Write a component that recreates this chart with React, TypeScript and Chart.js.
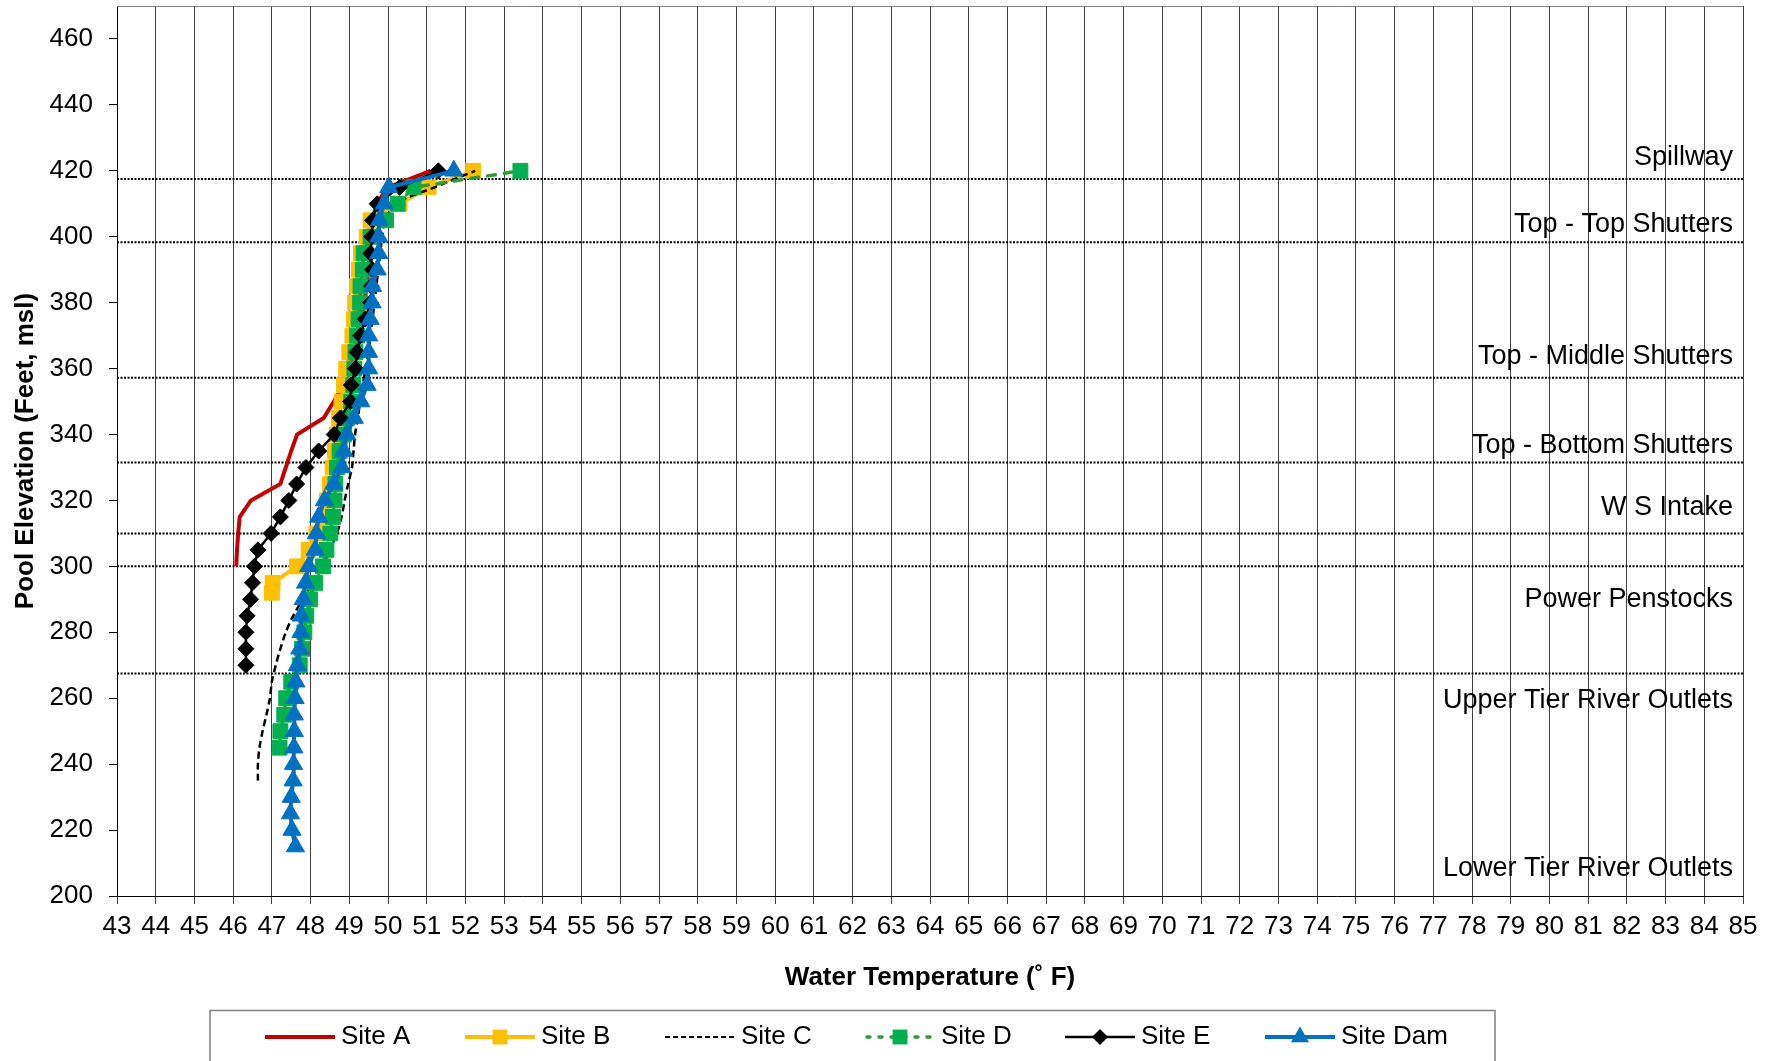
import React, { useEffect, useRef } from 'react';
import { Chart, registerables } from 'chart.js';

Chart.register(...registerables);

const FONT = '"Liberation Sans", Arial, sans-serif';

// Axis ticks
const xTickValues = [43, 44, 45, 46, 47, 48, 49, 50, 51, 52, 53, 54, 55, 56, 57, 58, 59, 60, 61, 62, 63, 64, 65, 66, 67, 68, 69, 70, 71, 72, 73, 74, 75, 76, 77, 78, 79, 80, 81, 82, 83, 84, 85];
const yTickValues = [200, 220, 240, 260, 280, 300, 320, 340, 360, 380, 400, 420, 440, 460];

// Series data (temperature °F vs pool elevation ft)
const siteAElev = [300, 305, 310, 315, 320, 325, 330, 335, 340, 345, 350, 355, 360, 365, 370, 375, 380, 385, 390, 395, 400, 405, 410, 415, 420];
const siteATemp = [46.08, 46.1, 46.13, 46.17, 46.46, 47.22, 47.36, 47.5, 47.65, 48.34, 48.6, 48.85, 49.0, 49.1, 49.2, 49.3, 49.38, 49.45, 49.5, 49.52, 49.55, 49.6, 49.7, 50.0, 51.1];

const siteBElev = [292, 295, 300, 305, 310, 315, 320, 325, 330, 335, 340, 345, 350, 355, 360, 365, 370, 375, 380, 385, 390, 395, 400, 405, 410, 415, 420];
const siteBTemp = [47.0, 47.02, 47.65, 47.95, 48.15, 48.34, 48.42, 48.5, 48.57, 48.63, 48.68, 48.73, 48.8, 48.86, 48.92, 49.0, 49.08, 49.12, 49.15, 49.2, 49.25, 49.3, 49.45, 49.55, 50.3, 51.05, 52.2];

const siteCElev = [235, 240, 245, 250, 255, 260, 265, 270, 275, 280, 285, 290, 295, 300, 305, 310, 315, 320, 325, 330, 335, 340, 345, 350, 355, 360, 365, 370, 375, 380, 385, 390, 395, 400, 405, 410, 415, 420];
const siteCTemp = [46.64, 46.64, 46.68, 46.76, 46.86, 46.95, 47.0, 47.1, 47.22, 47.36, 47.55, 47.8, 48.05, 48.3, 48.5, 48.68, 48.8, 48.88, 48.97, 49.07, 49.11, 49.15, 49.22, 49.28, 49.35, 49.42, 49.5, 49.55, 49.6, 49.65, 49.7, 49.75, 49.8, 49.85, 49.93, 50.2, 51.2, 52.25];

const siteDElev = [245, 250, 255, 260, 265, 270, 275, 280, 285, 290, 295, 300, 305, 310, 315, 320, 325, 330, 335, 340, 345, 350, 355, 360, 365, 370, 375, 380, 385, 390, 395, 400, 405, 410, 415, 420];
const siteDTemp = [47.2, 47.22, 47.32, 47.37, 47.5, 47.72, 47.78, 47.84, 47.89, 47.99, 48.12, 48.32, 48.41, 48.51, 48.58, 48.62, 48.64, 48.68, 48.75, 48.86, 48.94, 49.05, 49.1, 49.13, 49.16, 49.2, 49.24, 49.28, 49.29, 49.35, 49.37, 49.55, 49.95, 50.25, 50.66, 53.42];

const siteEElev = [270, 275, 280, 285, 290, 295, 300, 305, 310, 315, 320, 325, 330, 335, 340, 345, 350, 355, 360, 365, 370, 375, 380, 385, 390, 395, 400, 405, 410, 415, 420];
const siteETemp = [46.33, 46.33, 46.33, 46.36, 46.45, 46.5, 46.55, 46.64, 46.98, 47.22, 47.44, 47.64, 47.88, 48.21, 48.61, 48.77, 49.03, 49.05, 49.16, 49.2, 49.29, 49.41, 49.55, 49.57, 49.6, 49.55, 49.58, 49.6, 49.72, 50.3, 51.3];

const siteDamElev = [215, 220, 225, 230, 235, 240, 245, 250, 255, 260, 265, 270, 275, 280, 285, 290, 295, 300, 305, 310, 315, 320, 325, 330, 335, 340, 345, 350, 355, 360, 365, 370, 375, 380, 385, 390, 395, 400, 405, 410, 415, 420];
const siteDamTemp = [47.61, 47.52, 47.48, 47.5, 47.55, 47.56, 47.57, 47.58, 47.58, 47.6, 47.62, 47.66, 47.72, 47.75, 47.76, 47.81, 47.87, 47.95, 48.12, 48.15, 48.21, 48.36, 48.6, 48.81, 48.86, 48.94, 49.13, 49.3, 49.46, 49.5, 49.5, 49.5, 49.54, 49.59, 49.6, 49.72, 49.76, 49.76, 49.78, 49.9, 50.02, 51.7];

// Structure reference elevations (dotted lines)
const refLevels = [417.5, 398.3, 357.2, 331.5, 310, 300, 267.5];

// Structure labels and the elevation at which each is written
const zoneLabels = ['Spillway', 'Top - Top Shutters', 'Top - Middle Shutters', 'Top - Bottom Shutters', 'W S Intake', 'Power Penstocks', 'Upper Tier River Outlets', 'Lower Tier River Outlets'];
const zoneLabelElev = [424.1, 403.7, 363.7, 336.8, 317.8, 290.0, 259.2, 208.2];

const seriesNames = ['Site A', 'Site B', 'Site C', 'Site D', 'Site E', 'Site Dam'];

type Style = {
  line: string; width: number; dash: number[]; cap: CanvasLineCap;
  point: string | null; pointColor: string; radius: number; tension: number;
};

const styles: Style[] = [
  { line: '#C00000', width: 4, dash: [], cap: 'butt', point: null, pointColor: '#C00000', radius: 0, tension: 0 },
  { line: '#FFC000', width: 4, dash: [], cap: 'butt', point: 'rect', pointColor: '#FFC000', radius: 10.5, tension: 0 },
  { line: '#000000', width: 2.5, dash: [7, 4], cap: 'butt', point: null, pointColor: '#000000', radius: 0, tension: 0.3 },
  { line: '#339933', width: 3.5, dash: [8, 9], cap: 'round', point: 'rect', pointColor: '#00B050', radius: 10.5, tension: 0 },
  { line: '#000000', width: 2.5, dash: [], cap: 'butt', point: 'rectRot', pointColor: '#000000', radius: 8, tension: 0 },
  { line: '#0070C0', width: 4, dash: [], cap: 'butt', point: 'triangle', pointColor: '#0070C0', radius: 10.5, tension: 0 },
];

const seriesElev = [siteAElev, siteBElev, siteCElev, siteDElev, siteEElev, siteDamElev];
const seriesTemp = [siteATemp, siteBTemp, siteCTemp, siteDTemp, siteETemp, siteDamTemp];

function drawMarker(ctx: CanvasRenderingContext2D, kind: string, x: number, y: number, r: number, color: string) {
  ctx.save();
  ctx.fillStyle = color;
  ctx.beginPath();
  if (kind === 'rect') {
    const s = r * Math.SQRT1_2;
    ctx.rect(x - s, y - s, 2 * s, 2 * s);
  } else if (kind === 'rectRot') {
    ctx.moveTo(x, y - r);
    ctx.lineTo(x + r, y);
    ctx.lineTo(x, y + r);
    ctx.lineTo(x - r, y);
    ctx.closePath();
  } else if (kind === 'triangle') {
    ctx.moveTo(x, y - r);
    ctx.lineTo(x + r * Math.sin(Math.PI / 3), y + r / 2);
    ctx.lineTo(x - r * Math.sin(Math.PI / 3), y + r / 2);
    ctx.closePath();
  }
  ctx.fill();
  ctx.restore();
}

const decorPlugin = {
  id: 'decor',
  beforeDatasetsDraw(chart: any) {
    const { ctx, chartArea } = chart;
    ctx.save();
    ctx.strokeStyle = '#7f7f7f';
    ctx.lineWidth = 1;
    ctx.beginPath();
    ctx.moveTo(chartArea.left, Math.round(chartArea.top) + 0.5);
    ctx.lineTo(chartArea.right, Math.round(chartArea.top) + 0.5);
    ctx.stroke();
    ctx.restore();
  },
  afterDatasetsDraw(chart: any) {
    const { ctx } = chart;
    const xs = chart.scales.x;
    const ys = chart.scales.y;
    ctx.save();
    ctx.font = `27px ${FONT}`;
    ctx.fillStyle = '#000';
    ctx.textAlign = 'right';
    ctx.textBaseline = 'middle';
    const rx = xs.getPixelForValue(xs.max) - 10;
    zoneLabels.forEach((t, i) => {
      ctx.fillText(t, rx, ys.getPixelForValue(zoneLabelElev[i]));
    });
    ctx.restore();
  },
  afterDraw(chart: any) {
    const { ctx } = chart;
    ctx.save();
    ctx.strokeStyle = '#808080';
    ctx.lineWidth = 1.5;
    ctx.strokeRect(210, 1010.5, 1285, 90);
    const cy = 1037;
    seriesNames.forEach((name, i) => {
      const st = styles[i];
      const sx = 265 + i * 200;
      ctx.save();
      ctx.strokeStyle = st.line;
      ctx.lineWidth = i === 2 ? 2 : st.width;
      ctx.lineCap = st.cap;
      ctx.setLineDash(i === 2 ? [5, 3] : st.dash.length ? [3, 9] : []);
      ctx.beginPath();
      ctx.moveTo(sx + (st.cap === 'round' ? 2 : 0), cy);
      ctx.lineTo(sx + 70, cy);
      ctx.stroke();
      ctx.restore();
      if (st.point) drawMarker(ctx, st.point, sx + 35, cy, st.radius, st.pointColor);
      ctx.font = `26px ${FONT}`;
      ctx.fillStyle = '#000';
      ctx.textAlign = 'left';
      ctx.textBaseline = 'middle';
      ctx.fillText(name, sx + 76, cy);
    });
    ctx.restore();
  },
};

export default function App() {
  const ref = useRef<HTMLCanvasElement | null>(null);

  useEffect(() => {
    if (!ref.current) return;
    const refSets = refLevels.map((lvl) => ({
      label: 'ref',
      data: [{ x: xTickValues[0], y: lvl }, { x: xTickValues[xTickValues.length - 1], y: lvl }],
      borderColor: '#000',
      borderWidth: 2,
      borderDash: [2, 1.5],
      pointRadius: 0,
      fill: false,
      order: 100,
    }));
    const dataSets = seriesNames.map((name, i) => {
      const st = styles[i];
      return {
        label: name,
        data: seriesElev[i].map((e, k) => ({ x: seriesTemp[i][k], y: e })),
        borderColor: st.line,
        borderWidth: st.width,
        borderDash: st.dash,
        borderCapStyle: st.cap,
        tension: st.tension,
        pointStyle: st.point || 'circle',
        pointRadius: st.radius,
        pointBackgroundColor: st.pointColor,
        pointBorderColor: st.pointColor,
        pointBorderWidth: 1,
        fill: false,
        order: 6 - i,
      };
    });

    const chart = new Chart(ref.current, {
      type: 'line',
      data: { datasets: [...refSets, ...dataSets] as any },
      options: {
        responsive: false,
        animation: false,
        events: [],
        layout: { autoPadding: false, padding: { left: 0, top: 6, right: 33, bottom: 55 } },
        plugins: { legend: { display: false }, tooltip: { enabled: false } },
        scales: {
          x: {
            type: 'linear',
            min: 43,
            max: 85,
            afterBuildTicks: (s: any) => { s.ticks = xTickValues.map((v) => ({ value: v })); },
            ticks: { autoSkip: false, maxRotation: 0, minRotation: 0, color: '#000', font: { size: 26, family: FONT }, padding: 7 },
            grid: { color: '#404040', lineWidth: 1, tickLength: 8 },
            border: { color: '#000', width: 1 },
            title: { display: true, text: 'Water Temperature (˚ F)', color: '#000', font: { size: 26, weight: 'bold', family: FONT }, padding: { top: 0, bottom: 13 } },
            afterFit: (s: any) => { s.height = 110; s.paddingLeft = 0; s.paddingRight = 0; },
          },
          y: {
            type: 'linear',
            min: 200,
            max: 470,
            afterBuildTicks: (s: any) => { s.ticks = yTickValues.map((v) => ({ value: v })); },
            ticks: { color: '#000', font: { size: 26, family: FONT }, padding: 16 },
            grid: { drawOnChartArea: false, tickLength: 8, color: '#000' },
            border: { color: '#000', width: 1 },
            title: { display: true, text: 'Pool Elevation (Feet, msl)', color: '#000', font: { size: 26, weight: 'bold', family: FONT }, padding: { top: 10, bottom: 0 } },
            afterFit: (s: any) => { s.width = 117; s.paddingTop = 0; s.paddingBottom = 0; },
          },
        },
      } as any,
      plugins: [decorPlugin],
    });
    return () => chart.destroy();
  }, []);

  return (
    <div style={{ position: 'fixed', left: 0, top: 0, width: 1776, height: 1061, background: '#fff', overflow: 'hidden' }}>
      <canvas ref={ref} width={1776} height={1061} style={{ display: 'block', width: 1776, height: 1061 }} />
    </div>
  );
}
